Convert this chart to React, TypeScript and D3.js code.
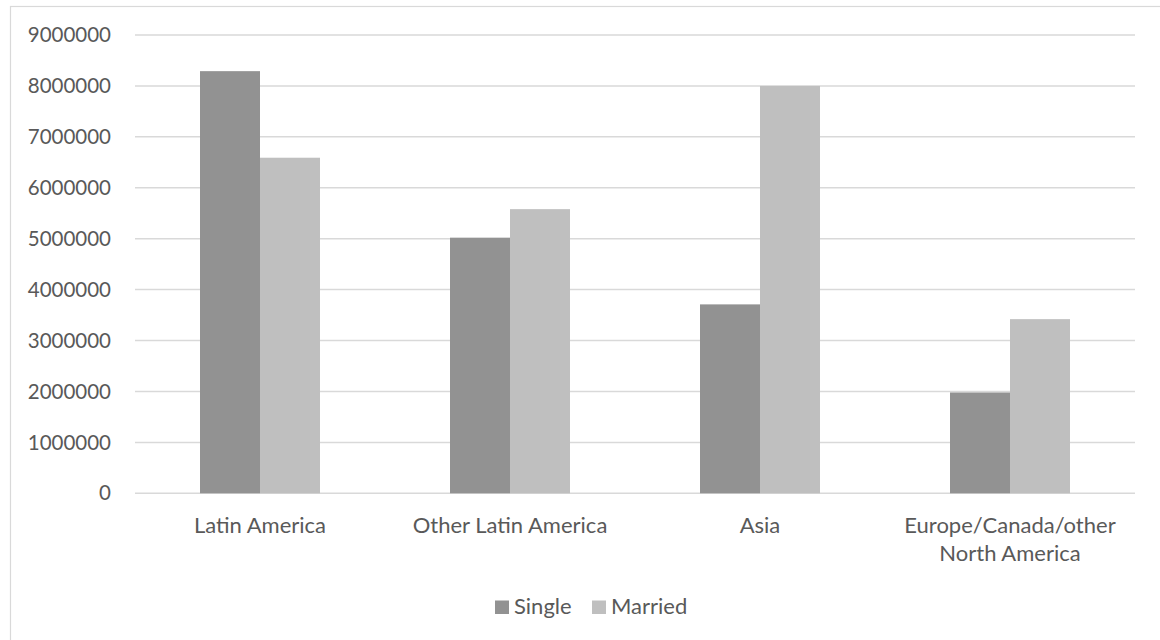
import React from "react";
import * as d3 from "d3";

// Regions shown along the category axis (each label may wrap onto two lines)
const categories: string[] = [
  "Latin America",
  "Other Latin America",
  "Asia",
  "Europe/Canada/other North America",
];
const categoryLines: string[][] = [
  ["Latin America"],
  ["Other Latin America"],
  ["Asia"],
  ["Europe/Canada/other", "North America"],
];

const seriesNames: string[] = ["Single", "Married"];
const singleValues: number[] = [8290000, 5020000, 3710000, 1980000];
const marriedValues: number[] = [6590000, 5580000, 8000000, 3420000];
const seriesColors: string[] = ["#929292", "#bfbfbf"];

const yTicks: number[] = [0, 1000000, 2000000, 3000000, 4000000, 5000000, 6000000, 7000000, 8000000, 9000000];

const W = 1160;
const H = 640;
const plotLeft = 135;
const plotRight = 1135;
const plotTop = 35;
const plotBottom = 493.3;

const FONT = "Lato, 'Open Sans', sans-serif";
const TEXT = "#595959";

export default function App() {
  const y = d3.scaleLinear().domain([0, 9000000]).range([plotBottom, plotTop]);
  const x0 = d3
    .scaleBand<string>()
    .domain(categories)
    .range([plotLeft, plotRight])
    .paddingInner(0.52)
    .paddingOuter(0.26);
  const x1 = d3.scaleBand<string>().domain(seriesNames).range([0, x0.bandwidth()]);

  const seriesValues = [singleValues, marriedValues];

  return (
    <svg
      width={W}
      height={H}
      style={{ position: "fixed", left: 0, top: 0, background: "#fff" }}
      fontFamily={FONT}
    >
      <rect x={0} y={0} width={W} height={H} fill="#fff" />
      {/* chart frame */}
      <rect x={10.5} y={6.5} width={W + 20} height={H + 20} fill="none" stroke="#d9d9d9" strokeWidth={1.2} />

      {/* horizontal gridlines and value labels */}
      {yTicks.map((t) => (
        <g key={t}>
          <line
            x1={plotLeft}
            x2={plotRight}
            y1={y(t)}
            y2={y(t)}
            stroke="#d9d9d9"
            strokeWidth={1.5}
          />
          <text
            x={111}
            y={y(t)}
            dy="0.35em"
            textAnchor="end"
            fontSize={20.5}
            fill={TEXT}
          >
            {t}
          </text>
        </g>
      ))}

      {/* bars */}
      {categories.map((c, ci) => (
        <g key={c} transform={`translate(${x0(c)},0)`}>
          {seriesNames.map((s, si) => {
            const v = seriesValues[si][ci];
            return (
              <rect
                key={s}
                x={x1(s)}
                y={y(v)}
                width={x1.bandwidth()}
                height={y(0) - y(v)}
                fill={seriesColors[si]}
              />
            );
          })}
        </g>
      ))}

      {/* category labels */}
      {categories.map((c, ci) => (
        <text
          key={c}
          x={(x0(c) as number) + x0.bandwidth() / 2}
          y={532.5}
          textAnchor="middle"
          fontSize={22}
          fill={TEXT}
        >
          {categoryLines[ci].map((line, li) => (
            <tspan key={li} x={(x0(c) as number) + x0.bandwidth() / 2} dy={li === 0 ? 0 : 28.4}>
              {line}
            </tspan>
          ))}
        </text>
      ))}

      {/* legend */}
      {seriesNames.map((s, si) => {
        const lx = [495, 592][si];
        return (
          <g key={s}>
            <rect x={lx} y={600.5} width={14} height={13.5} fill={seriesColors[si]} />
            <text x={lx + 19} y={613.7} fontSize={22} fill={TEXT}>
              {s}
            </text>
          </g>
        );
      })}
    </svg>
  );
}
